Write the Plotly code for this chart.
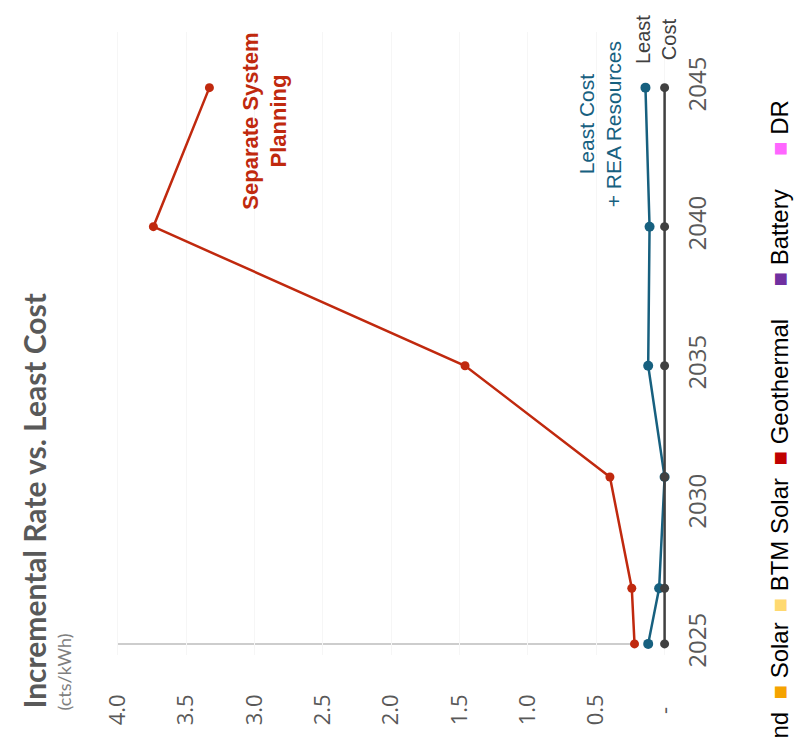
import plotly.graph_objects as go

# ---------------- data ----------------
years = [2025, 2027, 2031, 2035, 2040, 2045]
separate_system = [0.22, 0.24, 0.40, 1.46, 3.74, 3.33]
least_cost_rea = [0.12, 0.04, 0.00, 0.12, 0.11, 0.14]
least_cost = [0, 0, 0, 0, 0, 0]

value_ticks = [0, 0.5, 1.0, 1.5, 2.0, 2.5, 3.0, 3.5, 4.0]
value_tick_text = ["\u2007-\u2007", "0.5", "1.0", "1.5", "2.0", "2.5", "3.0", "3.5", "4.0"]
year_ticks = [2025, 2030, 2035, 2040, 2045]

legend_labels = ["nd", "Solar", "BTM Solar", "Geothermal", "Battery", "DR"]
legend_colors = [None, "#F5A300", "#FFD970", "#C00000", "#7030A0", "#FF66FF"]

# ---------------- layout geometry ----------------
W, H = 798, 738
L, R, T, B = 111, 117, 32, 83
pw, ph = W - L - R, H - T - B


def px_x(p):
    return (p - L) / pw


def px_y(p):
    return (H - B - p) / ph


RED = "#C0290E"
TEAL = "#17607F"
DARK = "#404040"
GRAY = "#595959"

fig = go.Figure()
fig.add_trace(go.Scatter(x=least_cost_rea, y=years, mode="lines+markers",
                         line=dict(color=TEAL, width=2.5), marker=dict(size=10, color=TEAL),
                         cliponaxis=False, showlegend=False))
fig.add_trace(go.Scatter(x=least_cost, y=years, mode="lines+markers",
                         line=dict(color=DARK, width=2.5), marker=dict(size=9, color=DARK),
                         cliponaxis=False, showlegend=False))
fig.add_trace(go.Scatter(x=separate_system, y=years, mode="lines+markers",
                         line=dict(color=RED, width=2.5), marker=dict(size=9, color=RED),
                         cliponaxis=False, showlegend=False))

# value-axis line at first year
fig.add_shape(type="line", xref="x", yref="y", x0=value_ticks[-1], x1=separate_system[0] + 0.03,
              y0=years[0], y1=years[0], line=dict(color="#BDBDBD", width=1.5), layer="below")

ann = []
ann.append(dict(text="<b>Incremental Rate vs. Least Cost</b>", textangle=-90,
                xref="paper", yref="paper", x=px_x(33), y=px_y(711),
                xanchor="center", yanchor="bottom", showarrow=False,
                font=dict(family="Lato", size=30, color=GRAY)))
ann.append(dict(text="(cts/kWh)", textangle=-90,
                xref="paper", yref="paper", x=px_x(63), y=px_y(713),
                xanchor="center", yanchor="bottom", showarrow=False,
                font=dict(family="Lato", size=18, color="#7F7F7F")))
ann.append(dict(text="<b>Separate System<br>Planning</b>", textangle=-90,
                xref="x", yref="y", x=2.93, y=2043.78, xanchor="center", yanchor="middle",
                showarrow=False, font=dict(family="Liberation Sans", size=22, color=RED)))
ann.append(dict(text="Least Cost<br>+ REA Resources", textangle=-90,
                xref="x", yref="y", x=0.475, y=2043.67, xanchor="center", yanchor="middle",
                showarrow=False, font=dict(family="Liberation Sans", size=21, color=TEAL)))
ann.append(dict(text="Least<br>Cost", textangle=-90,
                xref="x", yref="y", x=0.066, y=2046.73, xanchor="center", yanchor="middle",
                showarrow=False, font=dict(family="Liberation Sans", size=20, color=DARK)))

# legend (rotated) along right edge
legend_starts = [741, 702, 615, 468, 289, 158]
for lab, col, ys in zip(legend_labels, legend_colors, legend_starts):
    if col is None:
        txt = lab
    else:
        txt = f"<span style='color:{col}'>\u25A0</span> {lab}"
    ann.append(dict(text=txt, textangle=-90, xref="paper", yref="paper",
                    x=px_x(779), y=px_y(ys), xanchor="center", yanchor="bottom",
                    showarrow=False, font=dict(family="Liberation Sans", size=24, color="#000000")))

fig.update_layout(
    width=W, height=H,
    margin=dict(l=L, r=R, t=T, b=B, pad=0),
    paper_bgcolor="white", plot_bgcolor="white",
    annotations=ann,
    xaxis=dict(range=[4.05, -0.12], tickvals=value_ticks, ticktext=value_tick_text,
               tickangle=-90, showgrid=True, gridcolor="#F6F6F6", zeroline=False,
               showline=False, ticks="", ticklabelstandoff=34,
               tickfont=dict(family="Open Sans", size=22, color=GRAY)),
    yaxis=dict(range=[2024.6, 2047.0], tickvals=year_ticks, side="right",
               tickangle=-90, showgrid=False, zeroline=False, showline=False,
               ticks="", ticklabelstandoff=0,
               tickfont=dict(family="Open Sans", size=24, color=GRAY)),
    showlegend=False,
)

fig.write_html("out.html", config={"displayModeBar": False},
               post_script="document.body.style.margin='0px';")
